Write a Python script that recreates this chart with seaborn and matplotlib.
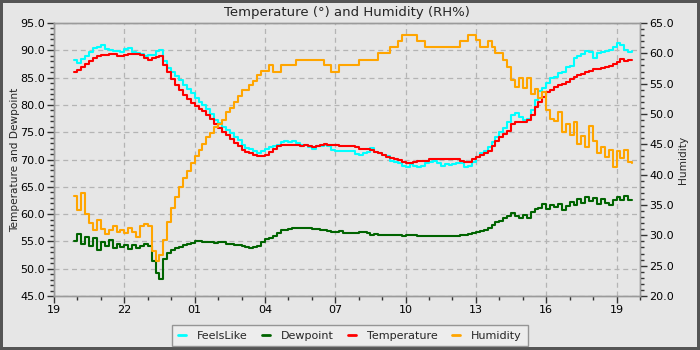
import numpy as np
import pandas as pd
import matplotlib
matplotlib.use("Agg")
import matplotlib.pyplot as plt
import matplotlib.dates as mdates
from matplotlib.ticker import FormatStrFormatter, MultipleLocator
from matplotlib.lines import Line2D
import seaborn as sns

# ---------------- data (10-minute readings, 19:50 -> 19:40 next day) ----------------
start_time = "2024-06-01 19:50"
n_points = 144

temperature = [
    86.0, 86.4, 86.9, 87.4, 88.0, 88.5, 88.9, 89.1, 89.2, 89.3, 89.3, 89.0, 89.0, 89.2, 89.3, 89.3,
    89.3, 89.1, 88.5, 88.2, 88.5, 88.8, 88.9, 87.3, 86.0, 84.8, 83.6, 82.7, 81.9, 81.1, 80.4, 79.8,
    79.3, 78.8, 78.2, 77.4, 76.5, 75.8, 75.1, 74.4, 73.7, 73.0, 72.4, 71.8, 71.4, 71.2, 70.9, 70.6,
    70.6, 70.8, 71.4, 72.0, 72.4, 72.7, 72.7, 72.7, 72.7, 72.6, 72.5, 72.6, 72.5, 72.3, 72.4, 72.6,
    72.8, 72.7, 72.6, 72.6, 72.5, 72.5, 72.5, 72.4, 72.2, 71.9, 71.9, 71.9, 71.7, 71.4, 71.1, 70.8,
    70.5, 70.3, 70.1, 69.9, 69.6, 69.4, 69.4, 69.5, 69.7, 69.7, 69.8, 70.1, 70.15, 70.15, 70.15, 70.15,
    70.15, 70.15, 70.1, 69.8, 69.6, 69.6, 70.1, 70.5, 70.8, 71.1, 71.6, 72.5, 73.4, 74.2, 74.7, 75.3,
    76.5, 76.9, 76.9, 76.9, 77.2, 78.2, 79.7, 80.6, 81.5, 82.3, 82.8, 83.3, 83.6, 83.9, 84.2, 84.7,
    85.1, 85.4, 85.7, 86.0, 86.2, 86.5, 86.6, 86.8, 87.0, 87.2, 87.5, 87.9, 88.4, 88.1, 88.2, 88.2,
]

feels_like = [
    88.3, 87.6, 88.4, 89.0, 89.7, 90.4, 90.6, 90.9, 90.2, 90.0, 89.8, 89.9, 89.6, 90.3, 90.5, 89.7,
    89.5, 89.4, 89.0, 89.1, 89.2, 89.8, 90.0, 88.0, 86.8, 86.0, 85.3, 84.6, 83.7, 82.9, 82.2, 81.3,
    80.6, 80.0, 79.2, 78.3, 77.3, 76.6, 76.0, 75.4, 74.8, 74.2, 73.5, 72.6, 72.1, 71.9, 71.5, 71.2,
    71.5, 72.0, 72.2, 72.5, 72.6, 73.2, 73.3, 73.2, 73.4, 73.0, 72.6, 72.7, 72.3, 72.0, 72.5, 72.4,
    72.6, 72.4, 71.8, 71.6, 71.6, 71.5, 71.6, 71.5, 71.0, 70.8, 71.2, 71.4, 72.1, 71.3, 71.1, 70.9,
    70.6, 69.8, 69.6, 69.3, 68.9, 68.7, 69.1, 68.8, 68.6, 68.8, 69.3, 69.5, 69.8, 69.4, 68.9, 69.2,
    69.0, 69.1, 69.4, 69.3, 68.6, 68.8, 69.6, 70.5, 71.1, 71.6, 72.3, 73.2, 74.2, 75.0, 75.8, 76.8,
    78.2, 78.6, 77.8, 77.3, 77.4, 79.0, 80.9, 82.5, 83.1, 84.0, 84.9, 85.2, 85.8, 86.0, 86.9, 87.1,
    88.5, 88.9, 89.3, 89.8, 89.6, 88.6, 89.5, 89.7, 89.8, 90.0, 90.6, 91.3, 91.0, 90.0, 89.7, 89.8,
]

dewpoint = [
    55.0, 56.3, 54.5, 55.8, 54.2, 55.6, 53.4, 54.9, 54.1, 55.2, 53.7, 54.6, 53.9, 54.4, 53.6, 54.3,
    53.8, 54.2, 54.5, 54.1, 51.5, 49.3, 48.2, 51.8, 52.9, 53.4, 53.8, 54.0, 54.3, 54.5, 54.7, 55.0,
    55.1, 54.9, 54.8, 54.9, 54.7, 54.8, 54.8, 54.6, 54.5, 54.4, 54.3, 54.1, 53.9, 53.8, 53.9, 54.1,
    54.8, 55.4, 55.7, 56.0, 56.5, 57.0, 57.1, 57.3, 57.4, 57.4, 57.4, 57.5, 57.4, 57.3, 57.2, 57.1,
    57.0, 56.9, 56.8, 56.8, 56.9, 56.6, 56.5, 56.5, 56.6, 56.8, 56.8, 56.6, 56.2, 56.3, 56.1, 56.2,
    56.1, 56.2, 56.2, 56.1, 56.0, 56.1, 56.1, 56.1, 56.0, 55.9, 56.0, 56.0, 55.9, 56.0, 56.0, 55.9,
    55.9, 55.9, 56.0, 56.1, 56.2, 56.3, 56.5, 56.7, 56.9, 57.1, 57.5, 58.0, 58.5, 58.8, 59.3, 59.6,
    60.2, 59.6, 59.2, 59.8, 59.3, 60.4, 60.9, 61.2, 61.8, 61.0, 61.7, 61.3, 61.9, 60.8, 61.5, 62.2,
    61.6, 62.8, 62.1, 63.2, 62.4, 63.0, 61.9, 62.7, 62.0, 61.7, 62.6, 63.2, 62.5, 63.3, 62.6, 62.5,
]

humidity = [
    36.5, 34.2, 37.0, 33.5, 32.0, 30.8, 32.5, 31.0, 30.2, 30.8, 31.5, 30.5, 30.9, 30.4, 31.2, 30.5,
    29.8, 31.6, 31.8, 31.5, 27.5, 25.7, 26.8, 29.3, 32.2, 34.5, 36.4, 38.0, 39.4, 40.6, 42.0, 43.1,
    44.1, 45.0, 46.2, 46.9, 47.9, 48.3, 49.0, 50.3, 51.0, 52.0, 53.0, 54.0, 54.0, 54.8, 55.5, 56.4,
    57.1, 57.1, 58.0, 57.0, 57.0, 58.0, 58.0, 58.0, 58.0, 58.9, 58.9, 58.9, 58.9, 58.9, 58.9, 58.9,
    58.0, 58.0, 57.0, 57.0, 58.0, 58.0, 58.0, 58.0, 58.0, 58.9, 58.9, 58.9, 58.9, 58.9, 60.1, 60.1,
    60.1, 61.1, 61.1, 62.1, 63.0, 63.0, 63.0, 63.0, 62.1, 62.1, 61.1, 61.1, 61.1, 61.1, 61.1, 61.1,
    61.1, 61.1, 61.1, 62.1, 62.1, 63.0, 63.0, 62.2, 61.1, 61.1, 62.1, 61.1, 60.0, 60.0, 58.9, 57.8,
    55.6, 54.5, 55.9, 54.3, 56.0, 53.3, 54.2, 52.6, 53.6, 50.7, 49.2, 48.8, 50.4, 47.0, 48.3, 46.6,
    48.6, 45.0, 46.3, 44.6, 48.0, 45.5, 43.5, 44.5, 42.9, 44.0, 41.3, 43.9, 42.8, 44.0, 42.1, 42.0,
]

series_names = ["FeelsLike", "Dewpoint", "Temperature", "Humidity"]
series_colors = ["#00ffff", "#006400", "#ff0000", "#ffa500"]
title_text = "Temperature (\u00b0) and Humidity (RH%)"
left_label = "Temperature and Dewpoint"
right_label = "Humidity"

times = pd.date_range(start=start_time, periods=n_points, freq="10min")
df = pd.DataFrame({"time": times, "FeelsLike": feels_like, "Dewpoint": dewpoint,
                   "Temperature": temperature, "Humidity": humidity})

# ---------------- style ----------------
BG = "#e6e6e6"
sns.set_style("white", {"axes.facecolor": BG, "figure.facecolor": BG})
plt.rcParams["font.family"] = ["DejaVu Sans"]
plt.rcParams["font.size"] = 8

fig = plt.figure(figsize=(7, 3.5), dpi=100)
fig.patch.set_facecolor(BG)
fig.patch.set_edgecolor("#555555")
fig.patch.set_linewidth(3)
ax = fig.add_axes([54 / 700, 54 / 350, (640 - 54) / 700, (296 - 23) / 350])
ax.set_facecolor(BG)

lw = 1.5
sns.lineplot(data=df, x="time", y="FeelsLike", ax=ax, color=series_colors[0], lw=lw,
             drawstyle="steps-post", zorder=3)
sns.lineplot(data=df, x="time", y="Dewpoint", ax=ax, color=series_colors[1], lw=lw,
             drawstyle="steps-post", zorder=3)
sns.lineplot(data=df, x="time", y="Temperature", ax=ax, color=series_colors[2], lw=lw,
             drawstyle="steps-post", zorder=4)

ax2 = ax.twinx()
sns.lineplot(data=df, x="time", y="Humidity", ax=ax2, color=series_colors[3], lw=lw,
             drawstyle="steps-post", zorder=3)

x0 = pd.Timestamp("2024-06-01 19:00")
x1 = pd.Timestamp("2024-06-02 20:00")
ax.set_xlim(x0, x1)
ax.set_ylim(45, 95)
ax2.set_ylim(20, 65)

ax.xaxis.set_major_locator(mdates.HourLocator(byhour=[19, 22, 1, 4, 7, 10, 13, 16]))
ax.xaxis.set_major_formatter(mdates.DateFormatter("%H"))
ax.xaxis.set_minor_locator(mdates.HourLocator())
ax.yaxis.set_major_locator(MultipleLocator(5))
ax.yaxis.set_minor_locator(MultipleLocator(1))
ax.yaxis.set_major_formatter(FormatStrFormatter("%.1f"))
ax2.yaxis.set_major_locator(MultipleLocator(5))
ax2.yaxis.set_minor_locator(MultipleLocator(1))
ax2.yaxis.set_major_formatter(FormatStrFormatter("%.1f"))

ax.grid(True, which="major", color="#b4b4b4", linestyle=(0, (4, 3)), linewidth=0.9)
ax.set_axisbelow(True)

for a in (ax, ax2):
    for s in a.spines.values():
        s.set_color("#9a9a9a")
        s.set_linewidth(1.0)
    a.tick_params(which="major", direction="out", length=5, width=1, color="#333333",
                  labelsize=8, labelcolor="black", pad=1.5)
    a.tick_params(which="minor", direction="out", length=3, width=1, color="#333333")

ax.tick_params(axis="x", which="both", bottom=True)
ax.tick_params(axis="y", which="both", left=True)
ax2.tick_params(axis="y", which="both", right=True)

ax.set_xlabel("")
ax.set_ylabel(left_label, fontsize=7.6, labelpad=0)
ax2.set_ylabel(right_label, fontsize=7.6, labelpad=3)
ax.set_title(title_text, fontsize=9.5, pad=5)

handles = [Line2D([0], [0], color=c, lw=2) for c in series_colors]
leg = fig.legend(handles, series_names, loc="lower center", bbox_to_anchor=(0.5, -0.005),
                 ncol=4, fontsize=8, frameon=True, fancybox=False, handlelength=0.7,
                 columnspacing=1.3, handletextpad=1.0, borderpad=0.5)
leg.get_frame().set_facecolor("#f0f0f0")
leg.get_frame().set_edgecolor("#808080")
leg.get_frame().set_linewidth(1.0)

fig.savefig("out.png", dpi=100, facecolor=BG, edgecolor="#555555")
